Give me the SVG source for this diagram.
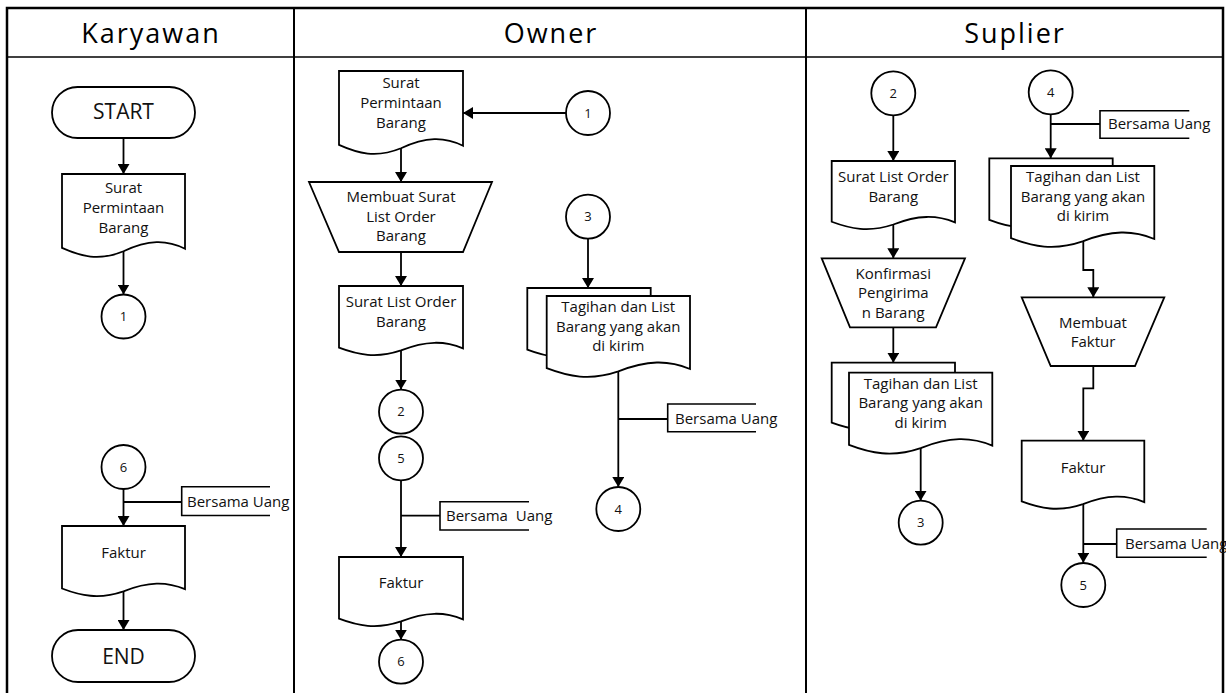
<svg xmlns="http://www.w3.org/2000/svg" width="1226" height="693" viewBox="0 0 1226 693">
<style>
.frame{fill:none;stroke:#000;stroke-width:2.5}
.lane{fill:none;stroke:#000;stroke-width:2}
.hline{fill:none;stroke:#000;stroke-width:1.6}
.shape{fill:#fff;stroke:#000;stroke-width:1.8}
.doc{fill:#fff;stroke:#000;stroke-width:1.8;vector-effect:non-scaling-stroke}
.conn{fill:none;stroke:#000;stroke-width:1.8}
.arr{marker-end:url(#ah)}
.brk{fill:none;stroke:#000;stroke-width:1.6}
.hd{font-family:"Open Sans","Liberation Sans",sans-serif;font-size:27px;letter-spacing:2px;text-anchor:middle;fill:#000}
.t{font-family:"Open Sans","Liberation Sans",sans-serif;font-size:15px;text-anchor:middle;fill:#111}
.tl{font-family:"Open Sans","Liberation Sans",sans-serif;font-size:15px;fill:#111}
.big{font-family:"Open Sans","Liberation Sans",sans-serif;font-size:21px;text-anchor:middle;fill:#111}
.n{font-family:"Open Sans","Liberation Sans",sans-serif;font-size:13px;text-anchor:middle;fill:#111}
</style>
<defs>
<marker id="ah" viewBox="0 0 10 10" refX="10" refY="5" markerWidth="10" markerHeight="12" markerUnits="userSpaceOnUse" orient="auto" preserveAspectRatio="none"><path d="M0,0 L10,5 L0,10 z" fill="#000"/></marker>
</defs>

<g id="frame">
<rect class="frame" x="7" y="8" width="1216" height="700"/>
<line class="hline" x1="7" y1="57" x2="1223" y2="57"/>
<line class="lane" x1="294" y1="8" x2="294" y2="700"/>
<line class="lane" x1="806" y1="8" x2="806" y2="700"/>
<text class="hd" x="151" y="43">Karyawan</text>
<text class="hd" x="551" y="43">Owner</text>
<text class="hd" x="1015" y="43">Suplier</text>
</g>

<g id="connectors">
<!-- Karyawan -->
<line class="conn arr" x1="123.5" y1="138" x2="123.5" y2="174"/>
<line class="conn arr" x1="123.5" y1="251" x2="123.5" y2="294.5"/>
<line class="conn arr" x1="123.5" y1="489" x2="123.5" y2="526"/>
<line class="conn" x1="123.5" y1="502" x2="181.7" y2="502"/>
<line class="conn arr" x1="123.5" y1="590" x2="123.5" y2="630"/>
<!-- Owner -->
<line class="conn arr" x1="566" y1="113" x2="463" y2="113"/>
<line class="conn arr" x1="401" y1="148" x2="401" y2="182"/>
<line class="conn arr" x1="401" y1="252" x2="401" y2="286"/>
<line class="conn arr" x1="401" y1="350" x2="401" y2="389.5"/>
<line class="conn arr" x1="401" y1="480.3" x2="401" y2="557"/>
<line class="conn" x1="401" y1="515.7" x2="440" y2="515.7"/>
<line class="conn arr" x1="401" y1="620" x2="401" y2="639.7"/>
<line class="conn arr" x1="588" y1="238.7" x2="588" y2="288"/>
<line class="conn arr" x1="618.3" y1="370" x2="618.3" y2="487"/>
<line class="conn" x1="618.3" y1="419" x2="667.7" y2="419"/>
<!-- Suplier -->
<line class="conn arr" x1="893.3" y1="115.3" x2="893.3" y2="161"/>
<line class="conn arr" x1="893.3" y1="224" x2="893.3" y2="258.3"/>
<line class="conn arr" x1="893.3" y1="327.3" x2="893.3" y2="362.7"/>
<line class="conn arr" x1="920.7" y1="447" x2="920.7" y2="500.7"/>
<line class="conn arr" x1="1050.7" y1="114.3" x2="1050.7" y2="158.3"/>
<line class="conn" x1="1050.7" y1="124" x2="1100" y2="124"/>
<polyline class="conn arr" points="1083.3,241 1083.3,270 1093.3,270 1093.3,297.3"/>
<polyline class="conn arr" points="1093.3,366 1093.3,388.3 1083.3,388.3 1083.3,440.7"/>
<line class="conn arr" x1="1083.3" y1="503" x2="1083.3" y2="562.7"/>
<line class="conn" x1="1083.3" y1="544" x2="1116.7" y2="544"/>
</g>

<!-- Karyawan nodes -->
<g id="k-start">
<rect class="shape" x="52" y="87" width="143" height="51" rx="25.5" ry="25.5"/>
<text class="big" x="123.5" y="119">START</text>
</g>
<g id="k-doc-spb">
<path class="doc" transform="translate(62,174) scale(123,84)" d="M0,0 H1 V0.89 C0.85,0.78 0.7,0.78 0.5,0.92 C0.3,1.04 0.15,0.98 0,0.88 Z"/>
<text class="t" x="123.5" y="193">Surat</text>
<text class="t" x="123.5" y="212.5">Permintaan</text>
<text class="t" x="123.5" y="232.5">Barang</text>
</g>
<g id="k-c1"><circle class="shape" cx="123.5" cy="316.5" r="22"/><text class="n" x="123.5" y="321">1</text></g>
<g id="k-c6"><circle class="shape" cx="123.5" cy="467" r="22"/><text class="n" x="123.5" y="471.5">6</text></g>
<g id="k-bersama">
<path class="brk" d="M270,486.7 H181.7 V515.5 H270"/>
<text class="tl" x="187" y="507">Bersama Uang</text>
</g>
<g id="k-faktur">
<path class="doc" transform="translate(62,526) scale(123,71)" d="M0,0 H1 V0.89 C0.85,0.78 0.7,0.78 0.5,0.92 C0.3,1.04 0.15,0.98 0,0.88 Z"/>
<text class="t" x="123.5" y="558">Faktur</text>
</g>
<g id="k-end">
<rect class="shape" x="52" y="630" width="143" height="52" rx="26" ry="26"/>
<text class="big" x="123.5" y="664">END</text>
</g>

<!-- Owner nodes -->
<g id="o-doc-spb">
<path class="doc" transform="translate(339,71) scale(124,84)" d="M0,0 H1 V0.89 C0.85,0.78 0.7,0.78 0.5,0.92 C0.3,1.04 0.15,0.98 0,0.88 Z"/>
<text class="t" x="401" y="88">Surat</text>
<text class="t" x="401" y="108">Permintaan</text>
<text class="t" x="401" y="127.5">Barang</text>
</g>
<g id="o-c1"><circle class="shape" cx="588" cy="113" r="22"/><text class="n" x="588" y="117.5">1</text></g>
<g id="o-trap">
<polygon class="shape" points="309,182 492,182 463,252 339,252"/>
<text class="t" x="401" y="201.5">Membuat Surat</text>
<text class="t" x="401" y="221.5">List Order</text>
<text class="t" x="401" y="240.5">Barang</text>
</g>
<g id="o-doc-slob">
<path class="doc" transform="translate(339,286) scale(124,70)" d="M0,0 H1 V0.89 C0.85,0.78 0.7,0.78 0.5,0.92 C0.3,1.04 0.15,0.98 0,0.88 Z"/>
<text class="t" x="401" y="307">Surat List Order</text>
<text class="t" x="401" y="326.5">Barang</text>
</g>
<g id="o-c2"><circle class="shape" cx="401" cy="411.7" r="22"/><text class="n" x="401" y="416.2">2</text></g>
<g id="o-c5"><circle class="shape" cx="401" cy="458.3" r="22"/><text class="n" x="401" y="462.8">5</text></g>
<g id="o-bersama">
<path class="brk" d="M529,501.7 H440 V530 H529"/>
<text class="tl" x="446" y="520.5" style="word-spacing:4px">Bersama Uang</text>
</g>
<g id="o-faktur">
<path class="doc" transform="translate(339,557) scale(124,70)" d="M0,0 H1 V0.89 C0.85,0.78 0.7,0.78 0.5,0.92 C0.3,1.04 0.15,0.98 0,0.88 Z"/>
<text class="t" x="401" y="587.5">Faktur</text>
</g>
<g id="o-c6"><circle class="shape" cx="401" cy="661.7" r="22"/><text class="n" x="401" y="666.2">6</text></g>
<g id="o-c3"><circle class="shape" cx="588" cy="216.7" r="22"/><text class="n" x="588" y="221.2">3</text></g>
<g id="o-multidoc">
<path class="doc" transform="translate(527.3,288) scale(123.4,70)" d="M0,0 H1 V0.89 C0.85,0.78 0.7,0.78 0.5,0.92 C0.3,1.04 0.15,0.98 0,0.88 Z"/>
<path class="doc" transform="translate(546.7,296) scale(143.3,82)" d="M0,0 H1 V0.89 C0.85,0.78 0.7,0.78 0.5,0.92 C0.3,1.04 0.15,0.98 0,0.88 Z"/>
<text class="t" x="618.3" y="311.5">Tagihan dan List</text>
<text class="t" x="618.3" y="331.5">Barang yang akan</text>
<text class="t" x="618.3" y="350.5">di kirim</text>
</g>
<g id="o-bersama2">
<path class="brk" d="M756,404 H667.7 V431.7 H756"/>
<text class="tl" x="675" y="424">Bersama Uang</text>
</g>
<g id="o-c4"><circle class="shape" cx="618.3" cy="509" r="22"/><text class="n" x="618.3" y="513.5">4</text></g>

<!-- Suplier nodes -->
<g id="s-c2"><circle class="shape" cx="893.3" cy="93.3" r="22"/><text class="n" x="893.3" y="97.8">2</text></g>
<g id="s-doc-slob">
<path class="doc" transform="translate(831.7,161) scale(123.3,69)" d="M0,0 H1 V0.89 C0.85,0.78 0.7,0.78 0.5,0.92 C0.3,1.04 0.15,0.98 0,0.88 Z"/>
<text class="t" x="893.3" y="182.3">Surat List Order</text>
<text class="t" x="893.3" y="201.7">Barang</text>
</g>
<g id="s-trap1">
<polygon class="shape" points="821.7,258.3 965,258.3 936,327.3 850,327.3"/>
<text class="t" x="893.3" y="279">Konfirmasi</text>
<text class="t" x="893.3" y="298.3">Pengirima</text>
<text class="t" x="893.3" y="318.3">n Barang</text>
</g>
<g id="s-multidoc1">
<path class="doc" transform="translate(831.7,362.7) scale(123.3,68)" d="M0,0 H1 V0.89 C0.85,0.78 0.7,0.78 0.5,0.92 C0.3,1.04 0.15,0.98 0,0.88 Z"/>
<path class="doc" transform="translate(849,372.7) scale(143.3,82)" d="M0,0 H1 V0.89 C0.85,0.78 0.7,0.78 0.5,0.92 C0.3,1.04 0.15,0.98 0,0.88 Z"/>
<text class="t" x="920.7" y="389">Tagihan dan List</text>
<text class="t" x="920.7" y="408.3">Barang yang akan</text>
<text class="t" x="920.7" y="427.7">di kirim</text>
</g>
<g id="s-c3"><circle class="shape" cx="920.7" cy="522.7" r="22"/><text class="n" x="920.7" y="527.2">3</text></g>
<g id="s-c4"><circle class="shape" cx="1050.7" cy="92.3" r="22"/><text class="n" x="1050.7" y="96.8">4</text></g>
<g id="s-bersama1">
<path class="brk" d="M1189.3,110.7 H1100 V138.3 H1189.3"/>
<text class="tl" x="1108" y="129.3">Bersama Uang</text>
</g>
<g id="s-multidoc2">
<path class="doc" transform="translate(989.3,158.3) scale(123.4,70)" d="M0,0 H1 V0.89 C0.85,0.78 0.7,0.78 0.5,0.92 C0.3,1.04 0.15,0.98 0,0.88 Z"/>
<path class="doc" transform="translate(1011,166) scale(143.3,82)" d="M0,0 H1 V0.89 C0.85,0.78 0.7,0.78 0.5,0.92 C0.3,1.04 0.15,0.98 0,0.88 Z"/>
<text class="t" x="1083" y="182.3">Tagihan dan List</text>
<text class="t" x="1083" y="201.7">Barang yang akan</text>
<text class="t" x="1083" y="220.7">di kirim</text>
</g>
<g id="s-trap2">
<polygon class="shape" points="1021.7,297.3 1164.3,297.3 1135,366 1050.7,366"/>
<text class="t" x="1093" y="328.3">Membuat</text>
<text class="t" x="1093" y="347.3">Faktur</text>
</g>
<g id="s-faktur">
<path class="doc" transform="translate(1021.7,440.7) scale(122.6,69)" d="M0,0 H1 V0.89 C0.85,0.78 0.7,0.78 0.5,0.92 C0.3,1.04 0.15,0.98 0,0.88 Z"/>
<text class="t" x="1083" y="472.7">Faktur</text>
</g>
<g id="s-bersama2">
<path class="brk" d="M1206.7,529 H1116.7 V557.3 H1206.7"/>
<text class="tl" x="1125" y="549">Bersama Uang</text>
</g>
<g id="s-c5"><circle class="shape" cx="1083.3" cy="585" r="22"/><text class="n" x="1083.3" y="589.5">5</text></g>
</svg>
